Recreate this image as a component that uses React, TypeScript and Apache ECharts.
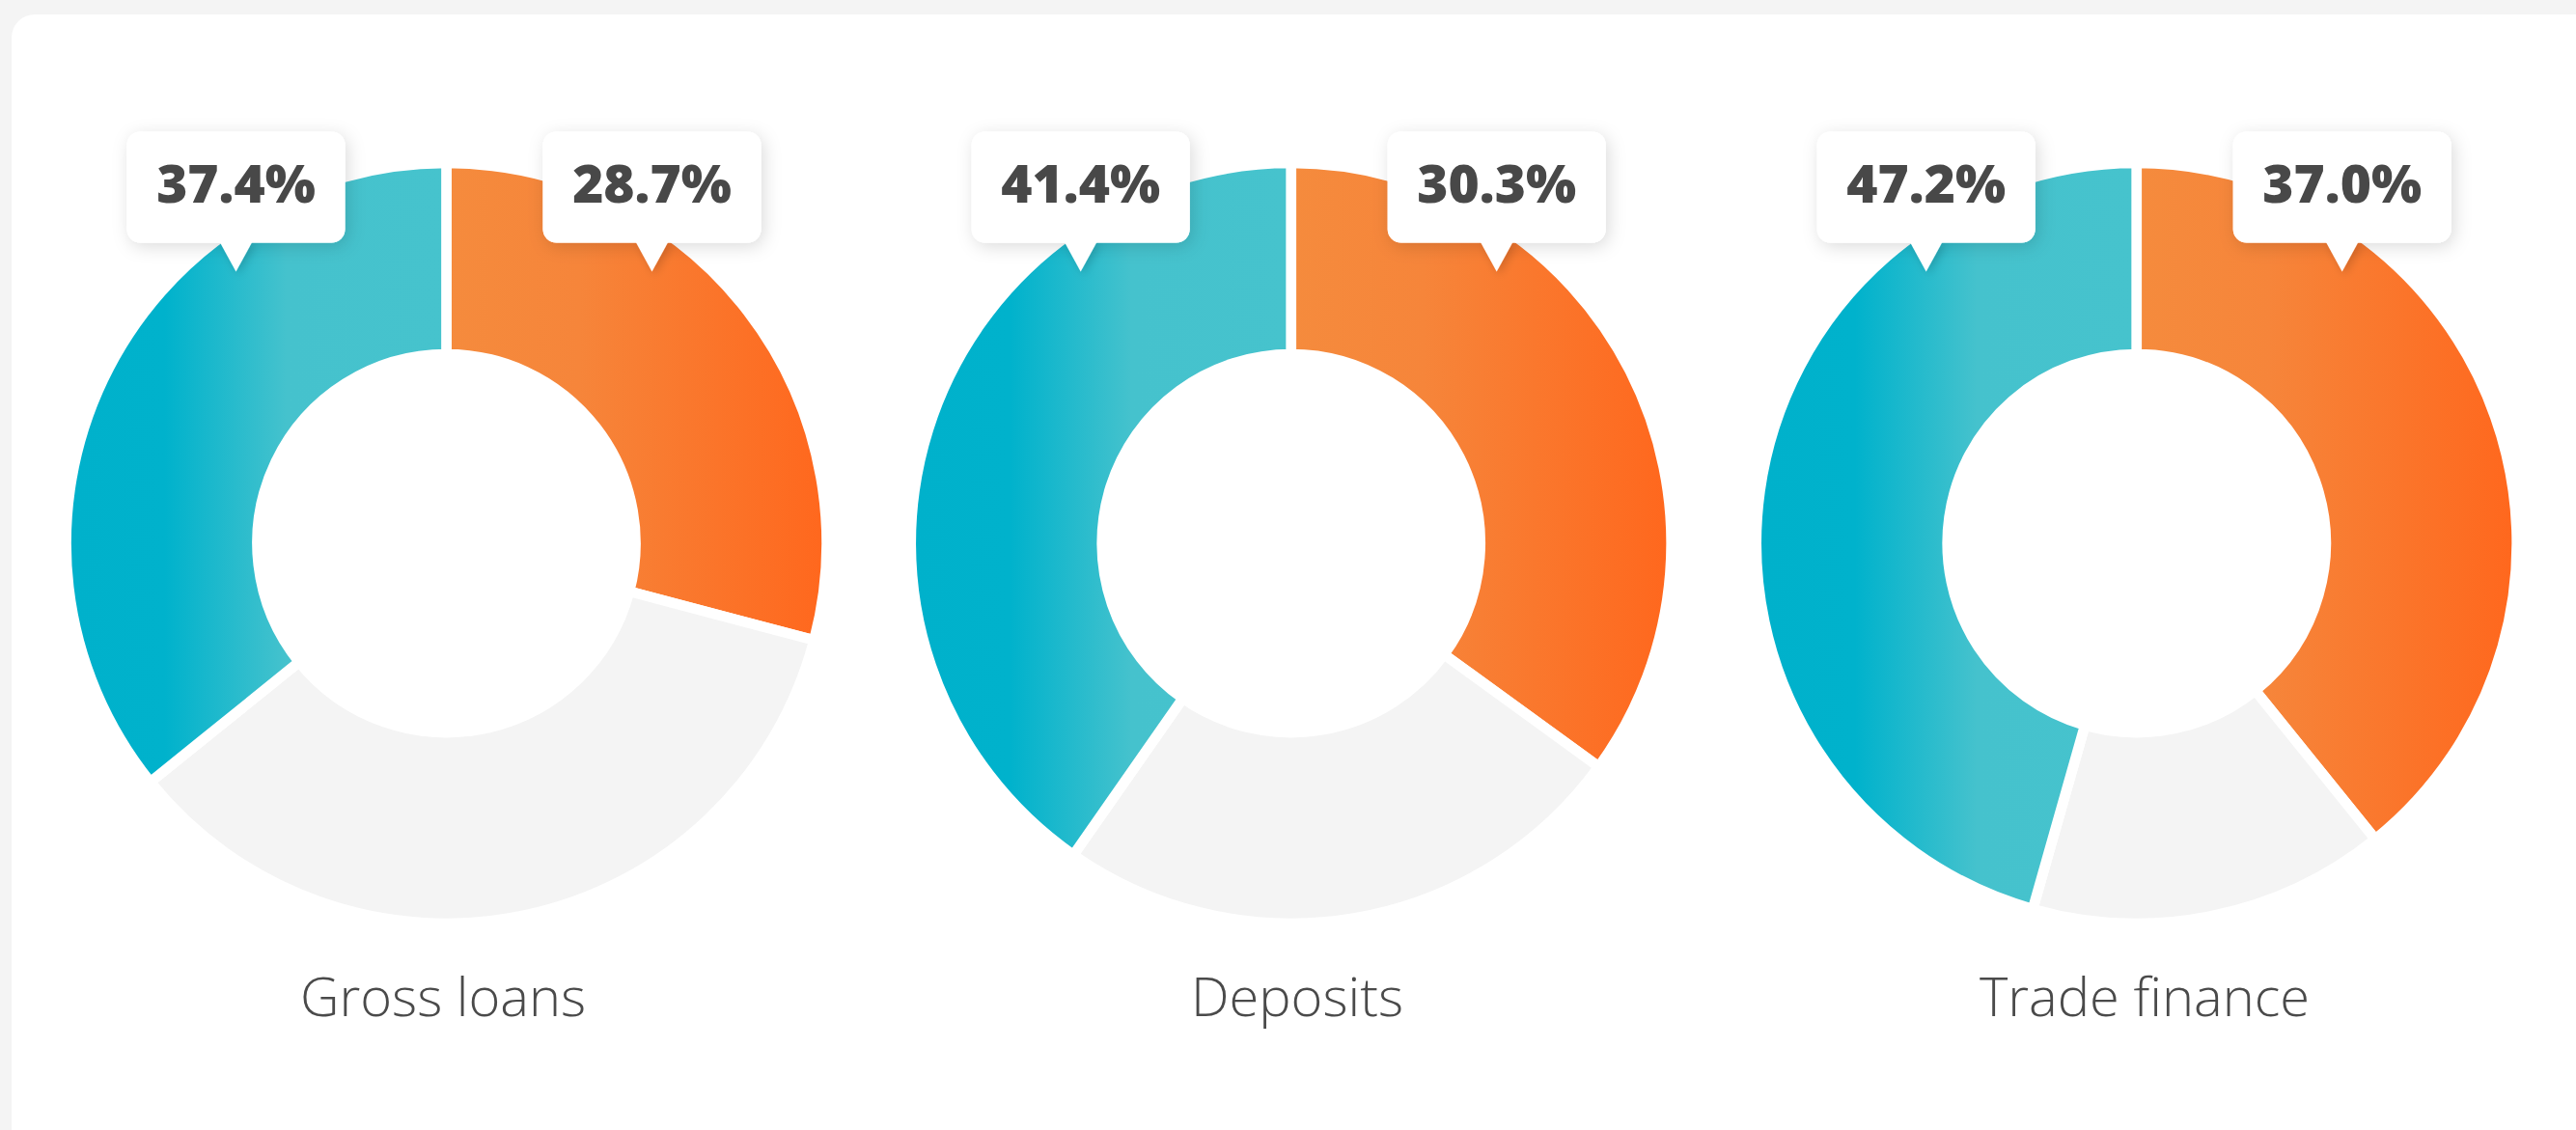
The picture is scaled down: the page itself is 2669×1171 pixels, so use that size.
import React, { useEffect, useRef } from "react";
import * as echarts from "echarts";

// ---- data ----
const TITLES = ["Gross loans", "Deposits", "Trade finance"];
// percentages printed in the callouts
const ORANGE_SHARE = [28.7, 30.3, 37.0];
const TEAL_SHARE = [37.4, 41.4, 47.2];
const ORANGE_SLICE = [29.1, 35.0, 39.2];
const GRAY_SLICE = [35.1, 24.7, 15.2];
const TEAL_SLICE = [35.8, 40.3, 45.6];

// ---- layout ----
const W = 2669;
const H = 1171;
const CENTERS_X = [462.5, 1337.7, 2213.7];
const TITLE_X = [454, 1339, 2217];
const CY = 563;
const R_IN = 196;
const R_OUT = 394;
const GAP = 10.7;

const BOX_W = 226;
const BOX_H = 115;
const BOX_TOP = 136.5;
const LEFT_OFF = -218;
const RIGHT_OFF = 213;

const orangeGrad = () =>
  new echarts.graphic.LinearGradient(0, 0, 1, 0, [
    { offset: 0, color: "#f58b3d" },
    { offset: 0.35, color: "#f6853a" },
    { offset: 1, color: "#ff671d" },
  ]);
const tealGrad = () =>
  new echarts.graphic.LinearGradient(0, 0, 1, 0, [
    { offset: 0, color: "#00b1cb" },
    { offset: 0.26, color: "#00b2cc" },
    { offset: 0.58, color: "#45c2cd" },
    { offset: 1, color: "#46c3cd" },
  ]);

function bubble(cx: number, text: string) {
  const x0 = cx - BOX_W / 2;
  const mid = BOX_W / 2;
  return {
    type: "group",
    x: x0,
    y: BOX_TOP,
    z: 100,
    silent: true,
    children: [
      {
        type: "rect",
        z: 100,
        shape: { x: 0, y: 0, width: BOX_W, height: BOX_H, r: 14 },
        style: {
          fill: "#ffffff",
          shadowBlur: 18,
          shadowColor: "rgba(0,0,0,0.14)",
          shadowOffsetX: 3,
          shadowOffsetY: 4,
        },
      },
      {
        type: "polygon",
        z: 100,
        shape: {
          points: [
            [mid - 17, BOX_H - 1],
            [mid + 17, BOX_H - 1],
            [mid, BOX_H + 30],
          ],
        },
        style: {
          fill: "#ffffff",
          shadowBlur: 10,
          shadowColor: "rgba(0,0,0,0.16)",
          shadowOffsetX: 3,
          shadowOffsetY: 3,
        },
      },
      {
        type: "rect",
        z: 100,
        shape: { x: 0, y: 0, width: BOX_W, height: BOX_H, r: 14 },
        style: { fill: "#ffffff" },
      },
      {
        type: "text",
        z: 100,
        x: mid,
        y: 52,
        style: {
          text,
          fill: "#484848",
          fontFamily: "Open Sans",
          fontWeight: 800,
          fontSize: 55,
          align: "center",
          verticalAlign: "middle",
          textAlign: "center",
          textVerticalAlign: "middle",
        },
      },
    ],
  };
}

export default function App() {
  const ref = useRef<HTMLDivElement>(null);

  useEffect(() => {
    document.body.style.margin = "0";
    if (!ref.current) return;
    const chart = echarts.init(ref.current, null, { renderer: "svg" });

    const series = TITLES.map((name, i) => ({
      type: "pie",
      name,
      center: [CENTERS_X[i], CY],
      radius: [R_IN, R_OUT],
      startAngle: 90,
      clockwise: true,
      silent: true,
      animation: false,
      label: { show: false },
      labelLine: { show: false },
      emphasis: { disabled: true, scale: false },
      itemStyle: { borderColor: "#ffffff", borderWidth: GAP },
      data: [
        { name: "orange", value: ORANGE_SLICE[i], itemStyle: { color: orangeGrad() } },
        { name: "other", value: GRAY_SLICE[i], itemStyle: { color: "#f4f4f4" } },
        { name: "teal", value: TEAL_SLICE[i], itemStyle: { color: tealGrad() } },
      ],
    }));

    const bubbles: any[] = [];
    TITLES.forEach((_, i) => {
      bubbles.push(bubble(CENTERS_X[i] + LEFT_OFF, TEAL_SHARE[i].toFixed(1) + "%"));
      bubbles.push(bubble(CENTERS_X[i] + RIGHT_OFF, ORANGE_SHARE[i].toFixed(1) + "%"));
    });

    chart.setOption({
      animation: false,
      backgroundColor: "#f4f4f4",
      title: TITLES.map((t, i) => ({
        text: t,
        left: TITLE_X[i],
        top: 998,
        textAlign: "center",
        textStyle: {
          fontFamily: "Open Sans",
          fontWeight: 300,
          fontSize: 56,
          color: "#4a4a4a",
        },
      })),
      graphic: [
        {
          type: "rect",
          z: -10,
          silent: true,
          shape: { x: 12, y: 15, width: 2700, height: 1180, r: 24 },
          style: { fill: "#ffffff" },
        },
        ...bubbles,
      ],
      series,
    });

    return () => chart.dispose();
  }, []);

  return <div ref={ref} style={{ width: W, height: H }} />;
}
